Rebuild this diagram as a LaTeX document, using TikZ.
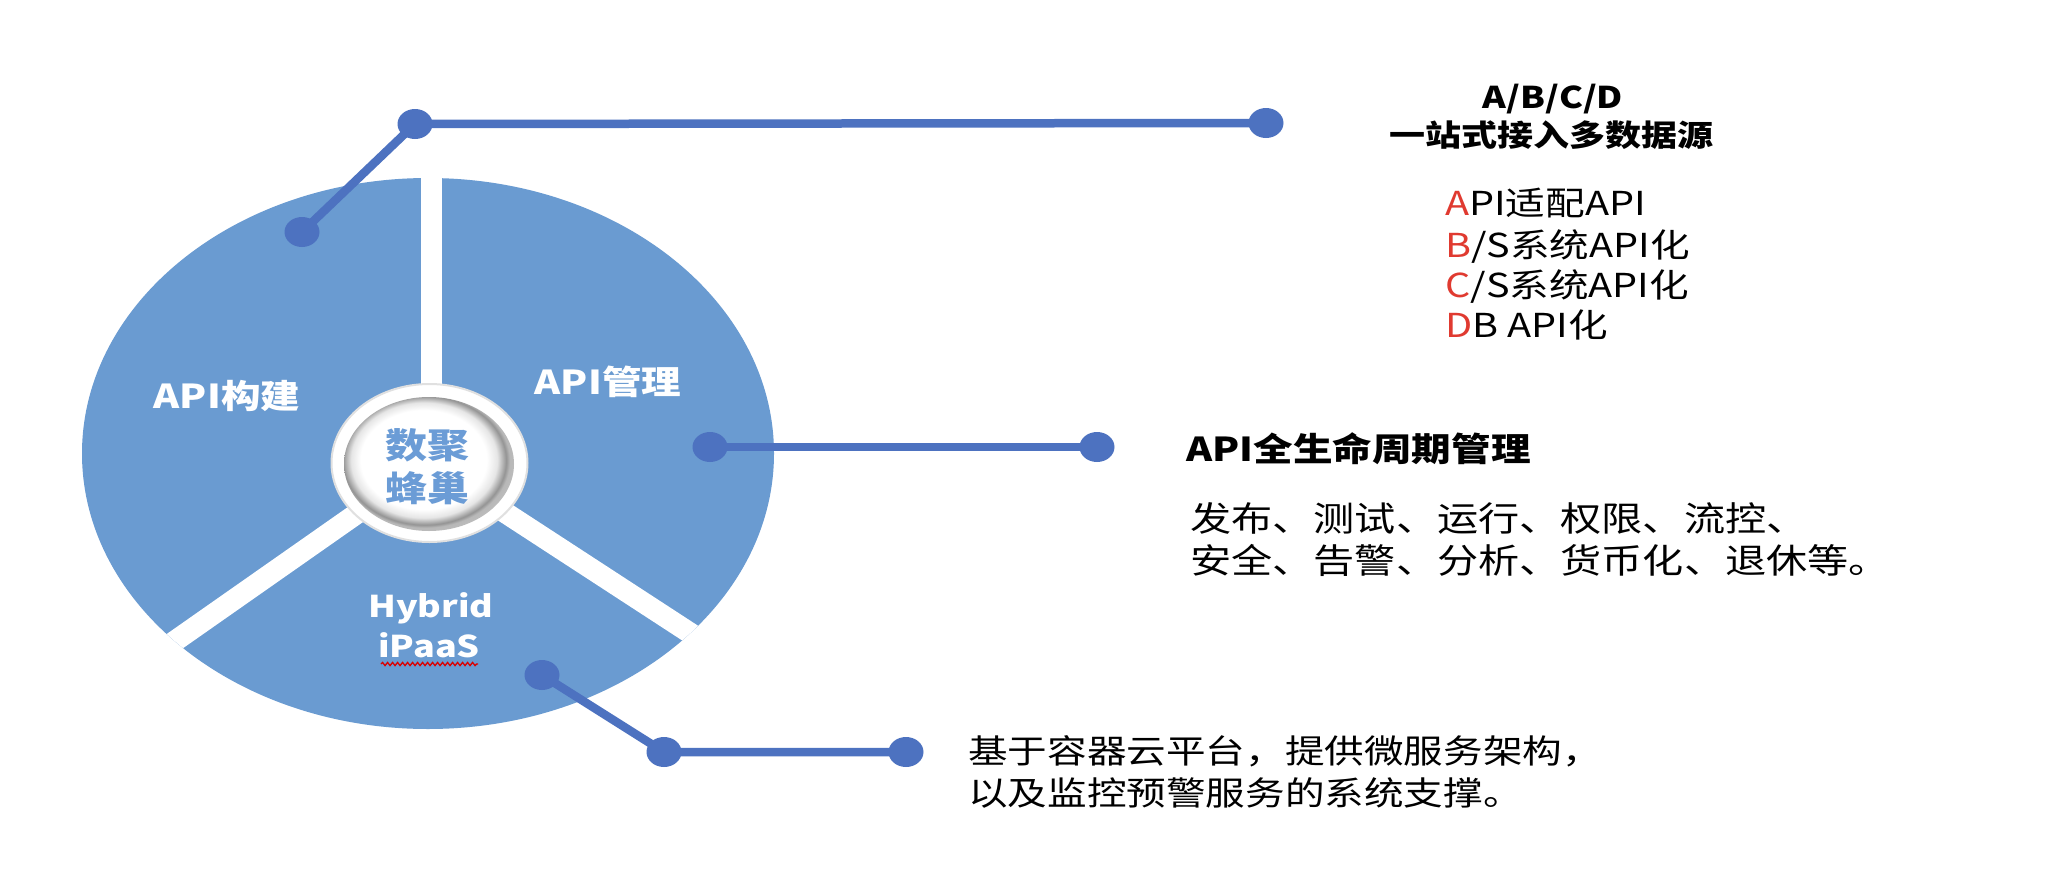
\documentclass[tikz,border=0pt]{standalone}
\usepackage{fontspec}
\setmainfont{Noto Sans CJK SC}[FakeStretch=1.2]
\usetikzlibrary{shapes.geometric,decorations.pathmorphing}
\definecolor{pieblue}{HTML}{6A9BD1}
\definecolor{linkblue}{HTML}{4D72C0}
\definecolor{hubtext}{HTML}{6B9CD6}
\definecolor{letterred}{HTML}{E03A30}
\pgfdeclareradialshading{ringshade}{\pgfpoint{-2.5bp}{2.5bp}}{color(0bp)=(white); color(18.5bp)=(white); color(21.5bp)=(black!10); color(24bp)=(black!42); color(25bp)=(black!28); color(50bp)=(white)}
\begin{document}
\begin{tikzpicture}[x=1pt,y=-1pt,
  dot/.style={shape=ellipse, fill=linkblue, inner sep=0pt, minimum width=35pt, minimum height=30pt},
  link/.style={draw=linkblue, line width=8.5pt},
  gap/.style={draw=white, line width=21pt},
  seclabel/.style={text=white, inner sep=0pt, anchor=base, font=\fontsize{33}{38}\selectfont\bfseries},
  hublabel/.style={text=hubtext, inner sep=0pt, anchor=base, font=\fontsize{35}{40}\selectfont\bfseries},
  headtext/.style={inner sep=0pt, anchor=base, font=\fontsize{30}{36}\selectfont\bfseries},
  listtext/.style={inner sep=0pt, anchor=base west, font=\fontsize{33}{40}\selectfont},
  bodytext/.style={inner sep=0pt, anchor=base west, font=\fontsize{34.3}{42}\selectfont},
  smalltext/.style={inner sep=0pt, anchor=base west, font=\fontsize{33}{40}\selectfont}]
\fill[white] (0,0) rectangle (2070,894);
\useasboundingbox (0,0) rectangle (2070,894);
% pie
\coordinate (hubc) at (429,463);
\fill[pieblue] (428,453.5) ellipse [x radius=346pt, y radius=275.5pt];
\begin{scope}
  \clip (428,453.5) ellipse [x radius=346pt, y radius=275.5pt];
  \coordinate (gtop) at (431,150);
  \coordinate (gleft) at (-79,819);
  \coordinate (gright) at (951,803);
  \draw[gap] (431,463) -- (gtop);
  \draw[gap] (hubc) -- (gleft);
  \draw[gap] (hubc) -- (gright);
\end{scope}
% hub ring
\path[fill=white, draw=black!12, line width=2pt] (429.5,463) ellipse [x radius=98pt, y radius=79pt];
\shade[shading=ringshade] (429,464) ellipse [x radius=85pt, y radius=67pt];
\node[hublabel] (hub1) at (427,458) {数聚};
\node[hublabel] (hub2) at (427,501) {蜂巢};
% sector labels
\node[seclabel] (s1) at (227,408) {API构建};
\node[seclabel] (s2) at (608,394) {API管理};
\node[seclabel, font=\fontsize{30}{36}\selectfont\bfseries] (s3a) at (431,617) {Hybrid};
\node[seclabel, font=\fontsize{30}{36}\selectfont\bfseries] (s3b) at (429,657) {iPaaS};
\draw[red!85!black, line width=1.3pt, decorate, decoration={snake, amplitude=1.6pt, segment length=5pt}] (381,664) -- (478,664);
% connectors
\coordinate (a1) at (302,232);
\coordinate (a2) at (415,124);
\coordinate (a3) at (1266,123);
\coordinate (b1) at (710,447);
\coordinate (b2) at (1097,447);
\coordinate (c1) at (542,675);
\coordinate (c2) at (664,752);
\coordinate (c3) at (906,752);
\draw[link] (a1) -- (a2) -- (a3);
\draw[link] (b1) -- (b2);
\draw[link] (c1) -- (c2) -- (c3);
\foreach \p in {a1,a2,a3,b1,b2,c1,c2,c3} {\node[dot] (d\p) at (\p) {};}
% right texts
\node[headtext] (h1) at (1553,108) {A/B/C/D};
\node[headtext] (h2) at (1551,146) {一站式接入多数据源};
\node[listtext] (l1) at (1445,215) {{\color{letterred}A}PI适配API};
\node[listtext] (l2) at (1445,257) {{\color{letterred}B}/S系统API化};
\node[listtext] (l3) at (1445,297) {{\color{letterred}C}/S系统API化};
\node[listtext] (l4) at (1445,337) {{\color{letterred}D}B API化};
\node[listtext, font=\fontsize{33}{40}\selectfont\bfseries] (m0) at (1186,461) {API全生命周期管理};
\node[bodytext] (m1) at (1190,531) {发布、测试、运行、权限、流控、};
\node[bodytext] (m2) at (1190,573) {安全、告警、分析、货币化、退休等。};
\node[smalltext] (n1) at (968,763) {基于容器云平台，提供微服务架构，};
\node[smalltext] (n2) at (968,805) {以及监控预警服务的系统支撑。};
\end{tikzpicture}
\end{document}
